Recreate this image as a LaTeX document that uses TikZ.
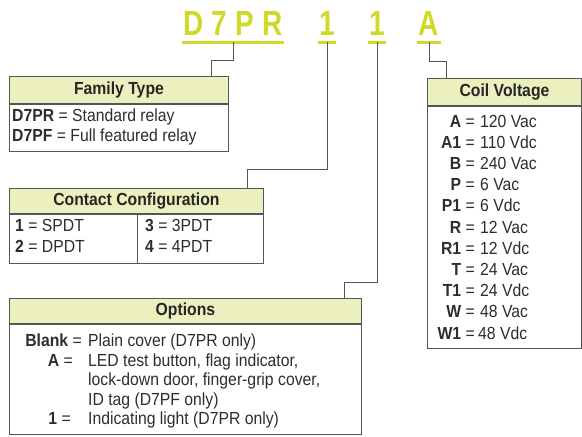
\documentclass[tikz,border=0pt]{standalone}
\usepackage{fontspec}
\setmainfont{Liberation Sans}[FakeStretch=0.9]
\newfontfamily\codefont{Liberation Sans}[FakeStretch=0.8]
\usetikzlibrary{positioning}
\definecolor{codegreen}{RGB}{208,216,40}
\definecolor{headfill}{RGB}{236,240,190}
\definecolor{linegray}{RGB}{85,85,85}
\definecolor{textgray}{RGB}{45,45,45}

\begin{document}
\begin{tikzpicture}[x=1pt, y=-1pt,
    code/.style={font=\codefont\fontsize{35}{35}\bfseries\selectfont, text=codegreen, inner xsep=1.5pt, inner ysep=7pt, anchor=base},
    underline/.style={draw=codegreen, line width=3pt},
    wire/.style={draw=linegray, line width=1pt},
    frame/.style={draw=linegray, line width=0.9pt},
    head/.style={frame, fill=headfill, font=\fontsize{17.5}{20}\bfseries\selectfont, text=black!85, inner sep=0pt, anchor=north west},
    body/.style={frame, inner sep=0pt},
    entry/.style={font=\fontsize{17.5}{20}\selectfont, text=textgray, inner sep=0pt, anchor=base west},
    key/.style={entry, anchor=base east}]
            \useasboundingbox (0,0) rectangle (582,437);

            % part number
            \node[code] (code_d7pr) at (233,35) {D\hspace{8pt}7\hspace{8pt}P\hspace{8pt}R};
            \node[code] (code_one_a) at (327,35) {1};
            \node[code] (code_one_b) at (377,35) {1};
            \node[code] (code_a) at (429,35) {A};
            \draw[underline] (code_d7pr.south west) -- (code_d7pr.south east);
            \draw[underline] (code_one_a.south west) -- (code_one_a.south east);
            \draw[underline] (code_one_b.south west) -- (code_one_b.south east);
            \draw[underline] (code_a.south west) -- (code_a.south east);

            % family type
            \node[head, minimum width=219, minimum height=27] (family_head) at (9,76) {Family Type};
            \node[body, below=0pt of family_head, minimum width=219, minimum height=47] (family_body) {};
            \node[entry] (family_pr) at (12,121.3) {\textbf{D7PR} = Standard relay};
            \node[entry] (family_pf) at (12,141.3) {\textbf{D7PF} = Full featured relay};

            % contact configuration
            \node[head, minimum width=254, minimum height=25] (contact_head) at (9,188) {Contact Configuration};
            \node[body, below=0pt of contact_head, minimum width=254, minimum height=49] (contact_body) {};
            \draw[frame] ([xshift=128pt]contact_body.north west) -- ([xshift=128pt]contact_body.south west);
            \node[entry] (contact_1) at (15,231) {\textbf{1} = SPDT};
            \node[entry] (contact_2) at (15,252) {\textbf{2} = DPDT};
            \node[entry] (contact_3) at (145,231) {\textbf{3} = 3PDT};
            \node[entry] (contact_4) at (145,252) {\textbf{4} = 4PDT};

            % options
            \node[head, minimum width=352, minimum height=25] (options_head) at (9,298) {Options};
            \node[body, below=0pt of options_head, minimum width=352, minimum height=110] (options_body) {};
            \node[key] (options_blank_key) at (82,346.5) {\textbf{Blank} =};
            \node[entry] (options_blank) at (88,346.5) {Plain cover (D7PR only)};
            \node[key] (options_a_key) at (73,366) {\textbf{A} =};
            \node[entry] (options_a) at (88,366) {LED test button, flag indicator,};
            \node[entry] (options_a_2) at (88,385.5) {lock-down door, finger-grip cover,};
            \node[entry] (options_a_3) at (88,405) {ID tag (D7PF only)};
            \node[key] (options_1_key) at (71,424.5) {\textbf{1} =};
            \node[entry] (options_1) at (88,424.5) {Indicating light (D7PR only)};

            % coil voltage
            \node[head, minimum width=154, minimum height=27] (coil_head) at (427,78) {Coil Voltage};
            \node[body, below=0pt of coil_head, minimum width=154, minimum height=242] (coil_body) {};
            \node[key] (coil_a_key) at (475,127) {\textbf{A} =};
            \node[entry] (coil_a) at (480,127) {120 Vac};
            \node[key] (coil_a1_key) at (475,148.2) {\textbf{A1} =};
            \node[entry] (coil_a1) at (480,148.2) {110 Vdc};
            \node[key] (coil_b_key) at (475,169.4) {\textbf{B} =};
            \node[entry] (coil_b) at (480,169.4) {240 Vac};
            \node[key] (coil_p_key) at (475,190.6) {\textbf{P} =};
            \node[entry] (coil_p) at (480,190.6) {6 Vac};
            \node[key] (coil_p1_key) at (475,211.8) {\textbf{P1} =};
            \node[entry] (coil_p1) at (480,211.8) {6 Vdc};
            \node[key] (coil_r_key) at (475,233) {\textbf{R} =};
            \node[entry] (coil_r) at (480,233) {12 Vac};
            \node[key] (coil_r1_key) at (475,254.2) {\textbf{R1} =};
            \node[entry] (coil_r1) at (480,254.2) {12 Vdc};
            \node[key] (coil_t_key) at (475,275.4) {\textbf{T} =};
            \node[entry] (coil_t) at (480,275.4) {24 Vac};
            \node[key] (coil_t1_key) at (475,296.6) {\textbf{T1} =};
            \node[entry] (coil_t1) at (480,296.6) {24 Vdc};
            \node[key] (coil_w_key) at (475,317.8) {\textbf{W} =};
            \node[entry] (coil_w) at (480,317.8) {48 Vac};
            \node[key] (coil_w1_key) at (475,339) {\textbf{W1} =};
            \node[entry] (coil_w1) at (478,339) {48 Vdc};

            % leader lines
            \coordinate (family_drop) at ([xshift=-17pt]family_head.north east);
            \coordinate (contact_drop) at ([xshift=-16pt]contact_head.north east);
            \coordinate (options_drop) at ([xshift=-17pt]options_head.north east);
            \coordinate (coil_drop) at ([xshift=19pt]coil_head.north west);
            \draw[wire] (code_d7pr.south) -- ++(0,18) -| (family_drop);
            \draw[wire] (code_one_a.south) -- ++(0,127) -| (contact_drop);
            \draw[wire] (code_one_b.south) -- ++(0,240) -| (options_drop);
            \draw[wire] (code_a.south) -- ++(0,19) -| (coil_drop);
        \end{tikzpicture}
\end{document}
